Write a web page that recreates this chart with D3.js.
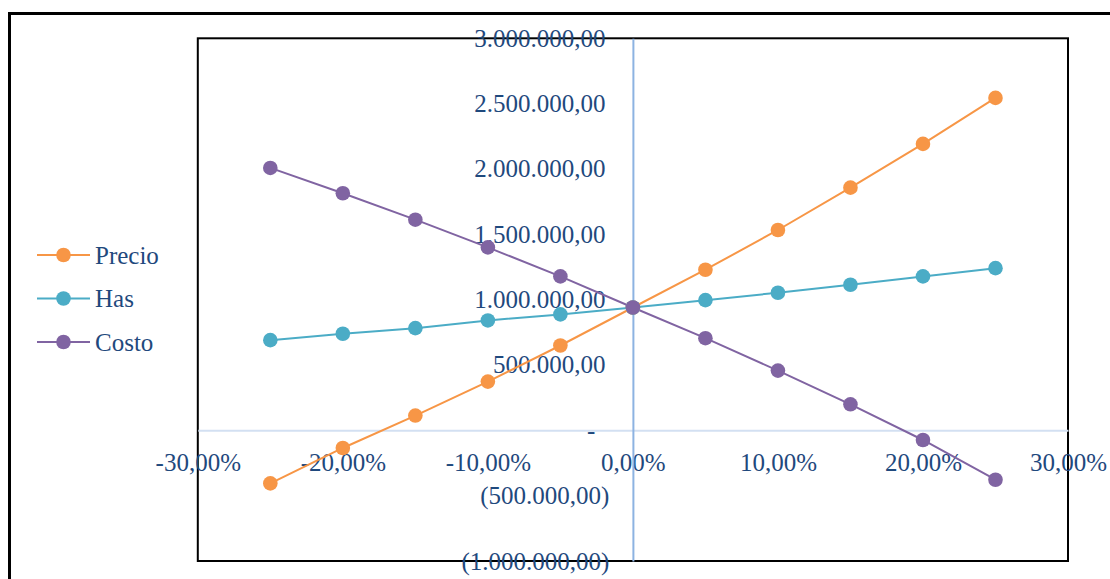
<!DOCTYPE html>
<html>
<head>
<meta charset="utf-8">
<script src="https://cdn.jsdelivr.net/npm/d3@7"></script>
<style>
  html, body { margin: 0; padding: 0; background: #ffffff; }
  svg { display: block; }
  text { font-family: "Liberation Serif", "Times New Roman", serif; }
</style>
</head>
<body>
<svg id="chart" width="1110" height="579"></svg>
<script>
// Sensitivity of the result to percentage changes in each variable
const variations = [-0.25, -0.20, -0.15, -0.10, -0.05, 0, 0.05, 0.10, 0.15, 0.20, 0.25];
const seriesNames = ["Precio", "Has", "Costo"];
const precio = [-406000, -135000, 113000, 373000, 649000, 940000, 1229000, 1533000, 1857000, 2192000, 2544000];
const has    = [690000, 739000, 782000, 841000, 887000, 940000, 996000, 1053000, 1114000, 1178000, 1241000];
const costo  = [2008000, 1814000, 1612000, 1400000, 1178000, 940000, 705000, 457000, 199000, -74000, -378000];
const xTicks = [-0.30, -0.20, -0.10, 0, 0.10, 0.20, 0.30];
const yTicks = [-1000000, -500000, 0, 500000, 1000000, 1500000, 2000000, 2500000, 3000000];

const colors = { Precio: "#F79646", Has: "#4BACC6", Costo: "#8064A2" };
const textColor = "#1F497D";
const fontSize = "25px";

const locale = d3.formatLocale({ decimal: ",", thousands: ".", grouping: [3], currency: ["", ""], minus: "-" });
const numFmt = locale.format(",.2f");
const pctFmt = locale.format(".2%");

const svg = d3.select("#chart");

const plot = { left: 197.8, right: 1068, top: 38.3, bottom: 561 };
const x = d3.scaleLinear().domain([-0.30, 0.30]).range([plot.left, plot.right]);
const y = d3.scaleLinear().domain([-1000000, 3000000]).range([plot.bottom, plot.top]);

// Chart frame (extends past the visible area on the right and bottom)
svg.append("rect")
  .attr("x", 9.5).attr("y", 13.5).attr("width", 1200).attr("height", 700)
  .attr("fill", "none").attr("stroke", "#000").attr("stroke-width", 3);

// Plot area border
svg.append("rect")
  .attr("x", plot.left).attr("y", plot.top)
  .attr("width", plot.right - plot.left).attr("height", plot.bottom - plot.top)
  .attr("fill", "none").attr("stroke", "#000").attr("stroke-width", 2);

// Horizontal axis crossing at zero
const xAxis = svg.append("g")
  .attr("transform", `translate(0,${y(0)})`)
  .call(d3.axisBottom(x).tickValues(xTicks).tickSize(0).tickSizeOuter(0).tickFormat(d => pctFmt(d)));
xAxis.select(".domain").attr("stroke", "#D3E0F2").attr("stroke-width", 2);
xAxis.selectAll(".tick text")
  .attr("y", 32).attr("dy", "0.35em")
  .attr("fill", textColor).style("font-size", fontSize)
  .style("font-family", "'Liberation Serif', serif");

// Vertical axis crossing at 0%
const yAxis = svg.append("g")
  .attr("transform", `translate(${x(0)},0)`)
  .call(d3.axisLeft(y).tickValues(yTicks).tickSize(0).tickSizeOuter(0).tickPadding(23.5)
    .tickFormat(d => d === 0 ? "-" : d < 0 ? "(" + numFmt(-d) + ")" : numFmt(d)));
yAxis.select(".domain").attr("stroke", "#8DB3E2").attr("stroke-width", 2);
yAxis.selectAll(".tick text")
  .attr("fill", textColor).style("font-size", fontSize)
  .style("font-family", "'Liberation Serif', serif")
  .attr("dx", d => d > 0 ? -4 : d === 0 ? -14 : 0);

// Series lines and markers
const series = [
  { name: "Precio", values: precio },
  { name: "Has", values: has },
  { name: "Costo", values: costo }
];

const line = d3.line().x((d, i) => x(variations[i])).y(d => y(d));

series.forEach(s => {
  svg.append("path")
    .datum(s.values)
    .attr("d", line)
    .attr("fill", "none")
    .attr("stroke", colors[s.name])
    .attr("stroke-width", 2);
});

series.forEach(s => {
  svg.append("g").selectAll("circle")
    .data(s.values)
    .join("circle")
    .attr("cx", (d, i) => x(variations[i]))
    .attr("cy", d => y(d))
    .attr("r", 7.3)
    .attr("fill", colors[s.name]);
});

// Legend
const legend = svg.append("g").attr("transform", "translate(37,255)");
seriesNames.forEach((name, i) => {
  const g = legend.append("g").attr("transform", `translate(0,${i * 43.5})`);
  g.append("line").attr("x1", 0).attr("x2", 53).attr("y1", 0).attr("y2", 0)
    .attr("stroke", colors[name]).attr("stroke-width", 2);
  g.append("circle").attr("cx", 26.5).attr("cy", 0).attr("r", 7.3).attr("fill", colors[name]);
  g.append("text").attr("x", 58).attr("y", 0).attr("dy", "0.35em")
    .attr("fill", textColor).style("font-size", fontSize).text(name);
});
</script>
</body>
</html>
